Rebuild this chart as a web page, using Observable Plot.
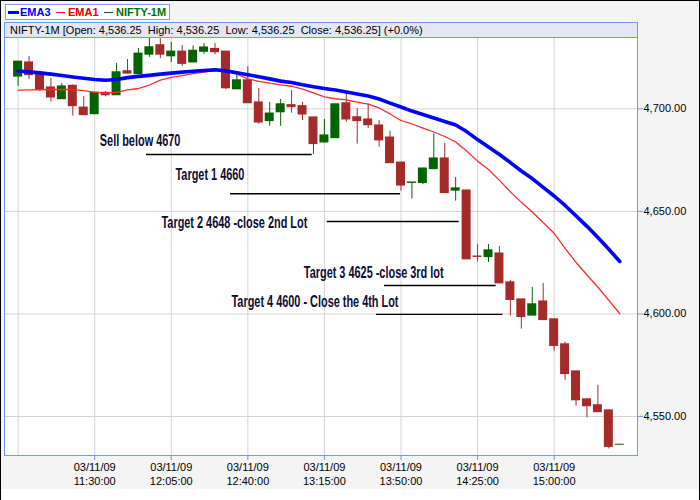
<!DOCTYPE html>
<html>
<head>
<meta charset="utf-8">
<script src="https://cdn.jsdelivr.net/npm/d3@7"></script>
<script src="https://cdn.jsdelivr.net/npm/@observablehq/plot@0.6"></script>
<style>
  body { margin: 0; background: #ffffff; }
  #wrap { position: relative; width: 700px; height: 500px; overflow: hidden; font-family: "Liberation Sans", Arial, sans-serif; }
  #wrap svg { position: absolute; left: 0; top: 0; }
  #legend { position: absolute; left: 5px; top: 4px; width: 165px; height: 16px; box-sizing: border-box;
            border: 1px solid #7ea2e8; background: #fff; font-size: 11px; font-weight: bold; }
  #legend span { position: absolute; top: 0px; line-height: 14px; }
  #legend i { position: absolute; display: block; }
  #info { position: absolute; left: 4px; top: 22px; width: 634px; height: 16px; box-sizing: border-box;
          border: 1px solid #6f9bea; background: #e6e6f3; font-size: 11px; line-height: 14px; white-space: pre; padding-left: 5px; color: #000; }
  #border { position: absolute; left: 0; top: 0; width: 700px; height: 500px; box-sizing: border-box;
            border-left: 1px solid #000; border-right: 1px solid #000; border-top: 1px solid #000; pointer-events: none; }
</style>
</head>
<body>
<div id="wrap">
  <div id="border"></div>
</div>
<script>
// ---------- data ----------
const sessionDate = "03/11/09";
const times = ["10:55","11:00","11:05","11:10","11:15","11:20","11:25","11:30","11:35","11:40",
  "11:45","11:50","11:55","12:00","12:05","12:10","12:15","12:20","12:25","12:30",
  "12:35","12:40","12:45","12:50","12:55","13:00","13:05","13:10","13:15","13:20",
  "13:25","13:30","13:35","13:40","13:45","13:50","13:55","14:00","14:05","14:10",
  "14:15","14:20","14:25","14:30","14:35","14:40","14:45","14:50","14:55","15:00",
  "15:05","15:10","15:15","15:20","15:25","15:30"];
const opens = [4715.7,4722.6,4716.6,4710.4,4704.7,4711.2,4700.6,4697.4,4707.8,4706.6,
  4718.3,4716.9,4726.4,4731.0,4725.6,4727.9,4722.6,4727.8,4729.2,4727.9,
  4709.5,4713.9,4703.1,4694.0,4698.3,4701.8,4701.3,4695.8,4683.6,4685.7,
  4702.7,4695.9,4694.8,4691.9,4686.0,4673.8,4663.9,4663.8,4670.6,4675.8,
  4660.1,4660.2,4628.0,4627.7,4629.5,4615.4,4607.1,4599.2,4606.1,4597.4,
  4585.2,4572.0,4558.4,4555.5,4553.0,4536.25];
const highs = [4723.0,4725.5,4716.8,4714.8,4712.3,4711.7,4706.0,4707.9,4708.4,4722.1,
  4724.0,4729.4,4734.6,4734.2,4732.3,4730.8,4730.7,4731.8,4731.8,4727.9,
  4717.8,4720.5,4709.9,4703.1,4704.5,4708.9,4703.1,4695.8,4694.8,4702.2,
  4707.8,4700.1,4702.4,4694.3,4689.1,4673.8,4664.1,4671.1,4687.8,4683.1,
  4666.5,4660.2,4633.9,4633.9,4632.9,4616.4,4607.1,4613.0,4614.9,4597.4,
  4586.2,4572.0,4558.4,4565.2,4553.0,4536.25];
const lows = [4710.9,4714.3,4708.4,4703.2,4704.7,4696.4,4696.9,4697.0,4705.8,4706.6,
  4716.9,4716.9,4725.1,4724.5,4722.6,4720.6,4722.6,4726.6,4726.3,4709.3,
  4709.5,4702.7,4692.5,4691.5,4691.5,4697.9,4694.3,4677.7,4683.2,4685.7,
  4693.5,4682.8,4690.4,4681.3,4673.5,4659.9,4656.1,4663.1,4670.6,4658.9,
  4655.0,4626.6,4625.3,4625.1,4614.9,4599.0,4592.6,4599.2,4597.0,4581.9,
  4567.7,4555.1,4549.3,4552.1,4534.2,4536.25];
const closes = [4723.0,4716.4,4709.3,4705.5,4710.9,4701.3,4696.9,4707.9,4706.6,4717.8,
  4717.2,4726.9,4730.0,4726.4,4727.9,4721.9,4728.3,4729.9,4727.6,4710.0,
  4713.9,4702.7,4693.3,4697.7,4702.2,4700.8,4697.2,4682.8,4687.0,4702.2,
  4694.8,4694.0,4692.0,4684.6,4673.5,4662.6,4664.1,4670.9,4675.8,4658.9,
  4661.2,4626.6,4627.8,4631.0,4614.9,4606.8,4598.5,4604.7,4597.0,4584.4,
  4570.7,4557.9,4555.0,4552.1,4535.2,4536.25];
const ema3 = [4718.4,4718.0,4717.5,4716.9,4716.2,4715.5,4714.9,4714.3,4713.9,4714.3,
  4715.2,4715.8,4716.3,4716.9,4717.4,4717.9,4718.3,4718.7,4719.0,4718.5,
  4717.6,4716.6,4715.6,4714.6,4713.5,4712.8,4711.7,4710.8,4709.9,4709.2,
  4708.2,4707.2,4706.2,4704.8,4702.8,4700.9,4698.9,4697.2,4695.5,4693.8,
  4692.1,4688.9,4685.0,4681.4,4677.7,4673.8,4669.7,4666.0,4661.7,4657.5,
  4652.9,4647.8,4642.7,4637.3,4631.5,4625.6];
const ema1 = [4709.1,4709.2,4709.3,4709.4,4709.5,4709.4,4708.9,4708.0,4707.7,4708.0,
  4709.2,4709.9,4711.6,4714.0,4715.3,4716.2,4717.1,4717.9,4718.7,4718.3,
  4716.9,4714.6,4713.4,4712.5,4711.7,4711.0,4709.6,4707.8,4705.8,4704.9,
  4704.4,4703.3,4702.3,4700.4,4697.5,4694.3,4692.6,4690.6,4688.7,4686.5,
  4683.8,4679.4,4674.5,4670.4,4665.1,4659.5,4654.4,4649.7,4644.6,4639.3,
  4632.0,4625.1,4619.0,4613.0,4606.6,4600.1];
const yTicks = [4550, 4600, 4650, 4700];
const xLabelTimes = ["11:30","12:05","12:40","13:15","13:50","14:25","15:00"];
const xGridTimes = ["10:55","11:30","12:05","12:40","13:15","13:50","14:25","15:00"];
const noteTexts = ["Sell below 4670","Target 1 4660","Target 2 4648 -close 2nd Lot",
  "Target 3 4625 -close 3rd lot","Target 4 4600 - Close the 4th Lot"];
const noteTextTimes = ["11:32:20","12:06:56","12:00:32","13:05:35","12:32:32"];
const noteTextValues = [4684.2, 4667.9, 4644.5, 4620.1, 4605.7];
const noteLineStarts = ["11:53:41","12:32:05","13:16:17","13:42:28","13:38:49"];
const noteLineEnds   = ["13:09:25","13:49:47","14:16:35","14:33:31","14:36:37"];
const noteLineValues = [4677.7, 4658.6, 4645.1, 4613.9, 4599.8];

// ---------- build ----------
const toMin = s => { const p = s.split(":").map(Number); return p[0]*60 + p[1] + (p[2]||0)/60; };
const RED = "#a52a2a", GREEN = "#006400", FRAME = "#6f9bea", GRID = "#d4d4d4";
const candles = times.map((t, i) => ({t: toMin(t), open: opens[i], high: highs[i], low: lows[i], close: closes[i], up: closes[i] >= opens[i]}));
const ema3Data = times.map((t, i) => ({t: toMin(t), v: ema3[i]}));
const ema1Data = times.map((t, i) => ({t: toMin(t), v: ema1[i]}));
const notes = noteTexts.map((s, i) => ({text: s, t: toMin(noteTextTimes[i]), v: noteTextValues[i]}));
const noteLines = noteLineValues.map((v, i) => ({t1: toMin(noteLineStarts[i]), t2: toMin(noteLineEnds[i]), v}));
const pad2 = n => String(n).padStart(2, "0");
const fmtTime = m => `${pad2(Math.floor(m/60))}:${pad2(Math.round(m%60))}:00`;
const fmtNum = d3.format(",.2f");

const wrap = document.getElementById("wrap");

// legend
const legend = document.createElement("div");
legend.id = "legend";
legend.innerHTML =
  '<i style="left:2px;top:6px;width:11px;height:3px;background:#0000ff"></i>' +
  '<span style="left:14px;color:#0000ff">EMA3</span>' +
  '<i style="left:50px;top:7px;width:9px;height:1px;background:#ff0000"></i>' +
  '<span style="left:62px;color:#e00000">EMA1</span>' +
  '<i style="left:98px;top:7px;width:9px;height:1px;background:#007000"></i>' +
  '<span style="left:110px;color:#007000">NIFTY-1M</span>';
wrap.appendChild(legend);

// info bar from last candle
const last = candles[candles.length - 1];
const info = document.createElement("div");
info.id = "info";
info.textContent = `NIFTY-1M [Open: ${fmtNum(last.open)}  High: ${fmtNum(last.high)}  Low: ${fmtNum(last.low)}  Close: ${fmtNum(last.close)}] (${d3.format("+.1%")((last.close - last.open) / last.open)})`;

const chart = Plot.plot({
  width: 700,
  height: 500,
  marginLeft: 4,
  marginRight: 63,
  marginTop: 37,
  marginBottom: 45,
  style: {background: "linear-gradient(#f4f4f4 489px, #ffffff 489px)", fontFamily: "Liberation Sans, Arial, sans-serif", fontSize: "11px", color: "#000", overflow: "visible"},
  x: {type: "linear", domain: [648.78, 938.1]},
  y: {domain: [4531.0, 4734.76]},
  marks: [
    Plot.frame({fill: "#ffffff"}),
    Plot.ruleY(yTicks, {stroke: GRID}),
    Plot.ruleX(xGridTimes.map(toMin), {stroke: GRID}),
    Plot.ruleX(candles, {x: "t", y1: "low", y2: "high", stroke: d => d.up ? GREEN : RED, strokeWidth: 1}),
    Plot.rect(candles, {x1: "t", x2: "t", y1: "open", y2: "close", insetLeft: -4.5, insetRight: -4.5, insetTop: -0.5, insetBottom: -0.5, fill: d => d.up ? GREEN : RED}),
    Plot.line(ema1Data, {x: "t", y: "v", stroke: "#ff2a2a", strokeWidth: 1.3}),
    Plot.line(ema3Data, {x: "t", y: "v", stroke: "#0000ff", strokeWidth: 3.6}),
    Plot.ruleY(noteLines, {x1: "t1", x2: "t2", y: "v", stroke: "#000", strokeWidth: 1.4}),
    Plot.text(notes, {x: "t", y: "v", text: "text", textAnchor: "start", fontWeight: "bold", fontSize: 16,
      fontFamily: "Liberation Sans Narrow, Arial Narrow, Liberation Sans, sans-serif", fill: "#0c0c34"}),
    Plot.axisY(yTicks, {anchor: "right", tickSize: 5, tickPadding: 1, tickFormat: fmtNum, stroke: FRAME, fill: "#000", label: null}),
    Plot.axisX(xLabelTimes.map(toMin), {anchor: "bottom", tickSize: 5, tickPadding: 0, lineHeight: 1.3,
      tickFormat: d => `${sessionDate}\n${fmtTime(d)}`, stroke: FRAME, fill: "#000", label: null}),
    Plot.frame({stroke: FRAME})
  ]
});
wrap.insertBefore(chart, wrap.firstChild);
wrap.appendChild(info);

// compress the annotation font to the narrow look of the reference
const noteEls = Array.from(chart.querySelectorAll("text")).filter(el => noteTexts.includes(el.textContent));
let refLen = 0;
noteEls.forEach(el => { if (el.textContent === noteTexts[4]) refLen = el.getComputedTextLength(); });
const k = refLen ? 167 / refLen : 1;
noteEls.forEach(el => {
  const L = el.getComputedTextLength();
  el.setAttribute("textLength", (L * k).toFixed(1));
  el.setAttribute("lengthAdjust", "spacingAndGlyphs");
});
</script>
</body>
</html>
